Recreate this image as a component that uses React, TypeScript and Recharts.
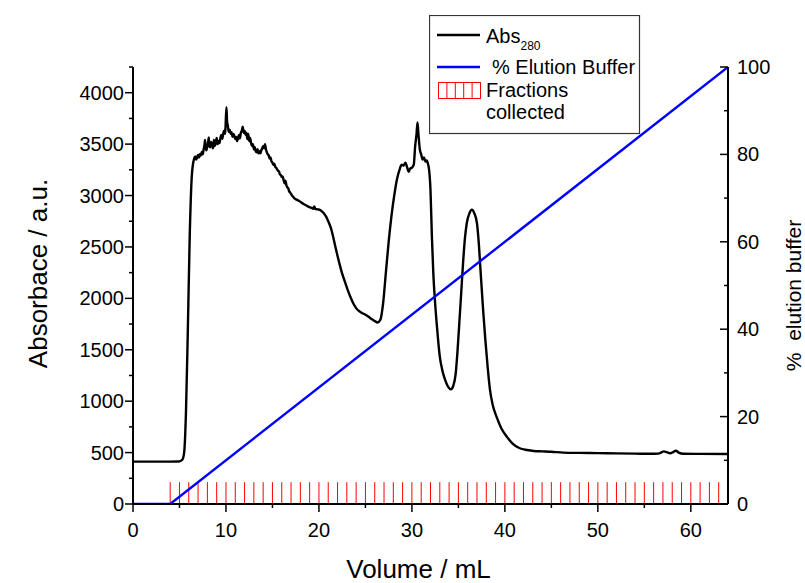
import React from 'react';
import { ComposedChart, Line, XAxis, YAxis, Legend } from 'recharts';

const FONT = '"Liberation Sans", Arial, Helvetica, sans-serif';

// Abs280 trace (mL / a.u.)
const absVolume = [
  0, 2, 4, 4.8, 5.0, 5.3, 5.5, 5.7, 5.9, 6.1, 6.3, 6.5,
  6.7, 6.8, 6.9, 7.0, 7.1, 7.2, 7.3, 7.4, 7.5, 7.6, 7.7, 7.75, 7.8, 7.9,
  8.0, 8.1, 8.15, 8.2, 8.3, 8.4, 8.5, 8.6, 8.7, 8.8, 8.9,
  9.0, 9.1, 9.2, 9.3, 9.4, 9.5, 9.6, 9.7, 9.8, 9.9, 9.95,
  10.05, 10.12, 10.2, 10.3, 10.4, 10.5, 10.6, 10.7, 10.8, 10.9,
  11.0, 11.1, 11.2, 11.3, 11.4, 11.5, 11.6, 11.7, 11.8, 11.9,
  12.0, 12.1, 12.2, 12.3, 12.4, 12.5, 12.6, 12.7, 12.8, 12.9,
  13.0, 13.1, 13.2, 13.3, 13.4, 13.5, 13.6, 13.7, 13.8, 13.9,
  14.0, 14.1, 14.2, 14.3, 14.4, 14.5, 14.6, 14.7, 14.8, 14.9,
  15.0, 15.1, 15.2, 15.3, 15.4, 15.5, 15.6, 15.7, 15.8, 15.9,
  16.0, 16.1, 16.2, 16.3, 16.4, 16.5, 16.6, 16.7, 16.8, 16.9,
  17.0, 17.1, 17.2, 17.4, 17.6,
  17.8, 18.0, 18.3, 18.6, 18.9, 19.2, 19.4, 19.5, 19.6, 19.9, 20.2, 20.5, 20.8, 21.0, 21.3, 21.6, 21.9,
  22.2, 22.5, 22.8, 23.1, 23.4, 23.7, 24.0, 24.5, 25.0, 25.5, 26.0, 26.3, 26.6, 26.9, 27.2, 27.5, 27.8,
  28.1, 28.4, 28.7, 28.9, 29.1, 29.3, 29.5, 29.65, 29.8, 30.0, 30.2, 30.35, 30.5, 30.6, 30.7, 30.85, 31.0,
  31.15, 31.3, 31.45, 31.6, 31.75, 31.85, 32.0, 32.15, 32.3, 32.5, 32.7, 33.0, 33.3, 33.6, 33.9, 34.2,
  34.45, 34.7, 34.9, 35.1, 35.3, 35.5, 35.7, 35.9, 36.2, 36.45, 36.7, 37.0, 37.2, 37.4, 37.65, 37.9,
  38.15, 38.4, 38.7, 39.1, 39.6, 40.2, 40.8, 41.6, 42.4, 43.1, 44.0, 45.0, 46.3, 48.0, 50.0, 52.0, 54.0,
  55.5, 56.5, 56.9, 57.1, 57.4, 57.8, 58.1, 58.4, 58.7, 59.2, 61.0, 64.0,
];
const absValue = [
  412, 412, 412, 413, 415, 430, 500, 900, 1700, 2600, 3150, 3330,
  3380, 3350, 3375, 3395, 3370, 3405, 3390, 3425, 3400, 3450, 3500, 3540, 3470, 3440,
  3480, 3530, 3565, 3490, 3470, 3520, 3490, 3460, 3540, 3480, 3510,
  3560, 3500, 3530, 3510, 3560, 3590, 3550, 3600, 3630, 3600, 3660,
  3860, 3720, 3680, 3620, 3640, 3600, 3615, 3570, 3600, 3580,
  3550, 3570, 3530, 3560, 3590, 3555, 3610, 3630, 3670, 3610,
  3630, 3590, 3610, 3550, 3600, 3530, 3560, 3510, 3480, 3500,
  3450, 3470, 3430, 3420, 3450, 3410, 3430, 3410, 3440, 3460,
  3480, 3460, 3500, 3450, 3420, 3400, 3390, 3360, 3370, 3330,
  3320, 3300, 3310, 3280, 3270, 3255, 3240, 3235, 3205, 3200,
  3180, 3185, 3150, 3120, 3145, 3100, 3080, 3070, 3040, 3030,
  3015, 3000, 2990, 2970, 2960,
  2950, 2940, 2920, 2905, 2890, 2880, 2870, 2895, 2870, 2865, 2855, 2830, 2790, 2750, 2680, 2570, 2450,
  2340, 2240, 2160, 2080, 2010, 1950, 1905, 1865, 1840, 1810, 1780, 1765, 1790, 1950, 2250, 2550, 2800,
  3000, 3160, 3260, 3300, 3290, 3320, 3270, 3230, 3260, 3270, 3300, 3480, 3600, 3710, 3600, 3450, 3400,
  3350, 3370, 3330, 3340, 3300, 3250, 3050, 2600, 2250, 1950, 1720, 1434, 1290, 1200, 1140, 1116,
  1150, 1260, 1480, 1760, 2050, 2340, 2580, 2730, 2830, 2861, 2830, 2730, 2530, 2245, 1900, 1596,
  1330, 1110, 960, 850, 740, 655, 590, 542, 525, 516, 512, 508, 500, 497, 495, 492, 490,
  488, 490, 505, 512, 505, 493, 505, 518, 500, 488, 487, 486,
];

// gradient programme: % elution buffer
const bufferVolume = [0, 4, 64];
const bufferPercent = [0, 0, 100];

// collected fractions (start volume of each tube)
const fractionVolume = [
  4, 5, 6, 7, 8, 9, 10, 11, 12, 13, 14, 15, 16, 17, 18, 19, 20, 21, 22, 23,
  24, 25, 26, 27, 28, 29, 30, 31, 32, 33, 34, 35, 36, 37, 38, 39, 40, 41, 42, 43,
  44, 45, 46, 47, 48, 49, 50, 51, 52, 53, 54, 55, 56, 57, 58, 59, 60, 61, 62, 63,
];
const fractionMark = 5;

const xTicks = [0, 5, 10, 15, 20, 25, 30, 35, 40, 45, 50, 55, 60];
const absTicks = [0, 250, 500, 750, 1000, 1250, 1500, 1750, 2000, 2250, 2500, 2750, 3000, 3250, 3500, 3750, 4000, 4250];
const pctTicks = [0, 10, 20, 30, 40, 50, 60, 70, 80, 90, 100];

const absData = absVolume.map((x, i) => ({ x, abs: absValue[i] }));
const bufferData = bufferVolume.map((x, i) => ({ x, pct: bufferPercent[i] }));
// each fraction is a short vertical stroke; null breaks the line between them
const fractionData = fractionVolume.flatMap((x) => [
  { x, frac: 0 },
  { x, frac: fractionMark },
  { x: x + 0.5, frac: null },
]);

const BottomTick = ({ x, y, payload }: any) => {
  const major = payload.value % 10 === 0;
  return (
    <g>
      <line x1={x} x2={x} y1={y} y2={y + (major ? 8 : 4)} stroke="#000" strokeWidth={1.5} />
      {major && (
        <text x={x} y={y + 33} textAnchor="middle" fontSize={20} fontFamily={FONT} fill="#000">
          {payload.value}
        </text>
      )}
    </g>
  );
};

const LeftTick = ({ x, y, payload }: any) => {
  const major = payload.value % 500 === 0;
  return (
    <g>
      <line x1={x - (major ? 8 : 4)} x2={x} y1={y} y2={y} stroke="#000" strokeWidth={1.5} />
      {major && (
        <text x={x - 9} y={y + 7} textAnchor="end" fontSize={20} fontFamily={FONT} fill="#000">
          {payload.value}
        </text>
      )}
    </g>
  );
};

const RightTick = ({ x, y, payload }: any) => {
  const major = payload.value % 20 === 0;
  return (
    <g>
      <line x1={x - (major ? 8 : 4)} x2={x} y1={y} y2={y} stroke="#000" strokeWidth={1.5} />
      {major && (
        <text x={x + 9} y={y + 7} textAnchor="start" fontSize={20} fontFamily={FONT} fill="#000">
          {payload.value}
        </text>
      )}
    </g>
  );
};

const LegendBox = () => (
  <svg width={212} height={120} style={{ display: 'block' }}>
    <rect x={0.5} y={0.5} width={210} height={118} fill="#fff" stroke="#333" strokeWidth={1.2} />
    <line x1={8} x2={51} y1={20} y2={20} stroke="#000" strokeWidth={2.4} />
    <text x={57} y={28} fontSize={20} fontFamily={FONT} fill="#000">
      Abs
      <tspan fontSize={12} dy={7}>280</tspan>
    </text>
    <line x1={8} x2={51} y1={52} y2={52} stroke="#0000ff" strokeWidth={2.4} />
    <text x={63} y={59} fontSize={20} fontFamily={FONT} fill="#000">% Elution Buffer</text>
    <rect x={9.5} y={67.5} width={42} height={16} fill="none" stroke="#ff0000" strokeWidth={1} />
    {[1, 2, 3, 4].map((k) => (
      <line key={k} x1={9.5 + k * 8.4} x2={9.5 + k * 8.4} y1={67.5} y2={83.5} stroke="#ff0000" strokeWidth={1} />
    ))}
    <text x={57} y={82} fontSize={20} fontFamily={FONT} fill="#000">Fractions</text>
    <text x={57} y={104} fontSize={20} fontFamily={FONT} fill="#000">collected</text>
  </svg>
);

export default function App() {
  return (
    <div style={{ position: 'absolute', left: 0, top: 0, width: 805, height: 583, background: '#fff' }}>
      <ComposedChart width={805} height={583} margin={{ top: 67, right: 0, bottom: 0, left: 0 }} style={{ fontFamily: FONT }}>
        <XAxis
          type="number"
          dataKey="x"
          domain={[0, 64]}
          allowDataOverflow
          ticks={xTicks}
          interval={0}
          tickSize={0}
          tickMargin={0}
          tickLine={false}
          tick={<BottomTick />}
          axisLine={{ stroke: '#000', strokeWidth: 2 }}
          height={79}
          label={{
            content: ({ viewBox }: any) => (
              <text
                x={viewBox.x + viewBox.width / 2 - 12}
                y={viewBox.y + 74}
                textAnchor="middle"
                fontSize={26}
                fontFamily={FONT}
                fill="#000"
              >
                Volume / mL
              </text>
            ),
          }}
        />
        <YAxis
          yAxisId="left"
          type="number"
          domain={[0, 4250]}
          allowDataOverflow
          ticks={absTicks}
          interval={0}
          tickSize={0}
          tickMargin={0}
          tickLine={false}
          tick={<LeftTick />}
          axisLine={{ stroke: '#000', strokeWidth: 2 }}
          width={133}
          label={{
            content: ({ viewBox }: any) => {
              const cx = viewBox.x + 38;
              const cy = viewBox.y + viewBox.height / 2 - 12;
              return (
                <text
                  x={cx}
                  y={cy}
                  transform={`rotate(-90 ${cx} ${cy})`}
                  textAnchor="middle"
                  dominantBaseline="central"
                  fontSize={26}
                  fontFamily={FONT}
                  fill="#000"
                >
                  Absorbace / a.u.
                </text>
              );
            },
          }}
        />
        <YAxis
          yAxisId="right"
          orientation="right"
          type="number"
          domain={[0, 100]}
          allowDataOverflow
          ticks={pctTicks}
          interval={0}
          tickSize={0}
          tickMargin={0}
          tickLine={false}
          tick={<RightTick />}
          axisLine={{ stroke: '#000', strokeWidth: 2 }}
          width={77}
          label={{
            content: ({ viewBox }: any) => {
              const cx = viewBox.x + 65;
              const cy = viewBox.y + viewBox.height / 2 + 10;
              return (
                <text
                  x={cx}
                  y={cy}
                  transform={`rotate(-90 ${cx} ${cy})`}
                  textAnchor="middle"
                  dominantBaseline="central"
                  fontSize={21}
                  fontFamily={FONT}
                  fill="#000"
                  style={{ whiteSpace: 'pre' }}
                >
                  {'%  elution buffer'}
                </text>
              );
            },
          }}
        />
        <Line
          yAxisId="right"
          data={fractionData}
          dataKey="frac"
          type="linear"
          stroke="#ff0000"
          strokeWidth={1}
          dot={false}
          activeDot={false}
          connectNulls={false}
          isAnimationActive={false}
        />
        <Line
          yAxisId="left"
          data={absData}
          dataKey="abs"
          type="monotone"
          stroke="#000"
          strokeWidth={2.4}
          dot={false}
          activeDot={false}
          isAnimationActive={false}
        />
        <Line
          yAxisId="right"
          data={bufferData}
          dataKey="pct"
          type="linear"
          stroke="#0000ff"
          strokeWidth={2.4}
          dot={false}
          activeDot={false}
          isAnimationActive={false}
        />
        <Legend
          layout="horizontal"
          verticalAlign="middle"
          align="center"
          content={() => <LegendBox />}
          wrapperStyle={{ position: 'absolute', left: 429, top: 15, width: 212, height: 120 }}
        />
      </ComposedChart>
    </div>
  );
}
